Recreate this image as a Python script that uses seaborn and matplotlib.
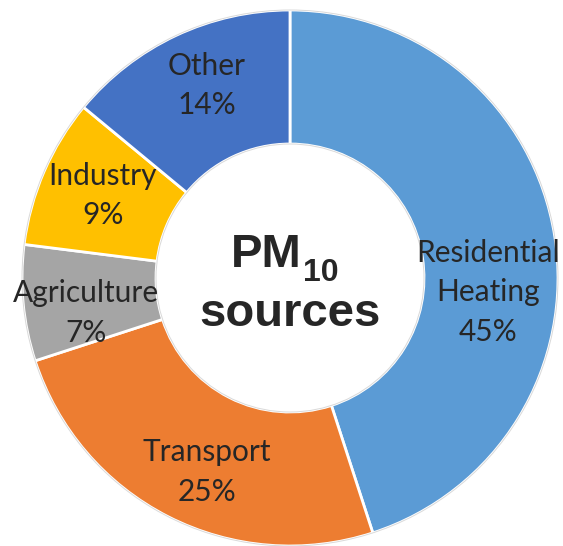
import numpy as np
import matplotlib
matplotlib.use('Agg')
import matplotlib.pyplot as plt
import seaborn as sns

kaynaklar = ['Residential\nHeating', 'Transport', 'Agriculture', 'Industry', 'Other']
paylar = [45, 25, 7, 9, 14]
renkler = ['#5B9BD5', '#ED7D31', '#A5A5A5', '#FFC000', '#4472C4']

# etiket kaydirmalari (eksen birimi)
kaydir = [(0.0, -0.17), (0.03, -0.055), (-0.015, -0.06), (-0.01, 0.01), (0.01, 0.04)]

sns.set_theme(style="white")
plt.rcParams['font.family'] = ['Lato', 'DejaVu Sans']

fig = plt.figure(figsize=(5.63, 5.46), dpi=100)
ax = fig.add_axes([0, 0, 1, 1])

wedges, _ = ax.pie(paylar, colors=sns.color_palette(renkler), startangle=90,
                   counterclock=False, radius=1.0,
                   wedgeprops=dict(width=0.5, edgecolor='white', linewidth=2))

for r in (1.0, 0.5):
    ax.add_patch(plt.Circle((0, 0), r, fill=False, edgecolor='#d9d9d9', linewidth=0.7))

r_etiket = 0.75
for w, ad, p, (dx, dy) in zip(wedges, kaynaklar, paylar, kaydir):
    aci = np.deg2rad((w.theta1 + w.theta2) / 2)
    x = r_etiket * np.cos(aci) + dx
    y = r_etiket * np.sin(aci) + dy
    ax.text(x, y, f'{ad}\n{p}%', ha='center', va='center', fontsize=21.5,
            color='#262626', linespacing=1.5)

# orta yazi: PM + alt simge 10
baslik_font = ['Liberation Sans', 'DejaVu Sans']
ax.text(0.045, 0.041, 'PM', ha='right', va='baseline', fontsize=34,
        fontweight='bold', family=baslik_font)
ax.text(0.05, -0.011, '10', ha='left', va='baseline', fontsize=23,
        fontweight='bold', family=baslik_font)
ax.text(0, -0.135, 'sources', ha='center', va='center', fontsize=34,
        fontweight='bold', family=baslik_font)

ax.set_xlim(-290 / 268, (563 - 290) / 268)
ax.set_ylim(-(546 - 278) / 268, 278 / 268)
ax.axis('off')

plt.savefig('out.png', dpi=100)
plt.close()
